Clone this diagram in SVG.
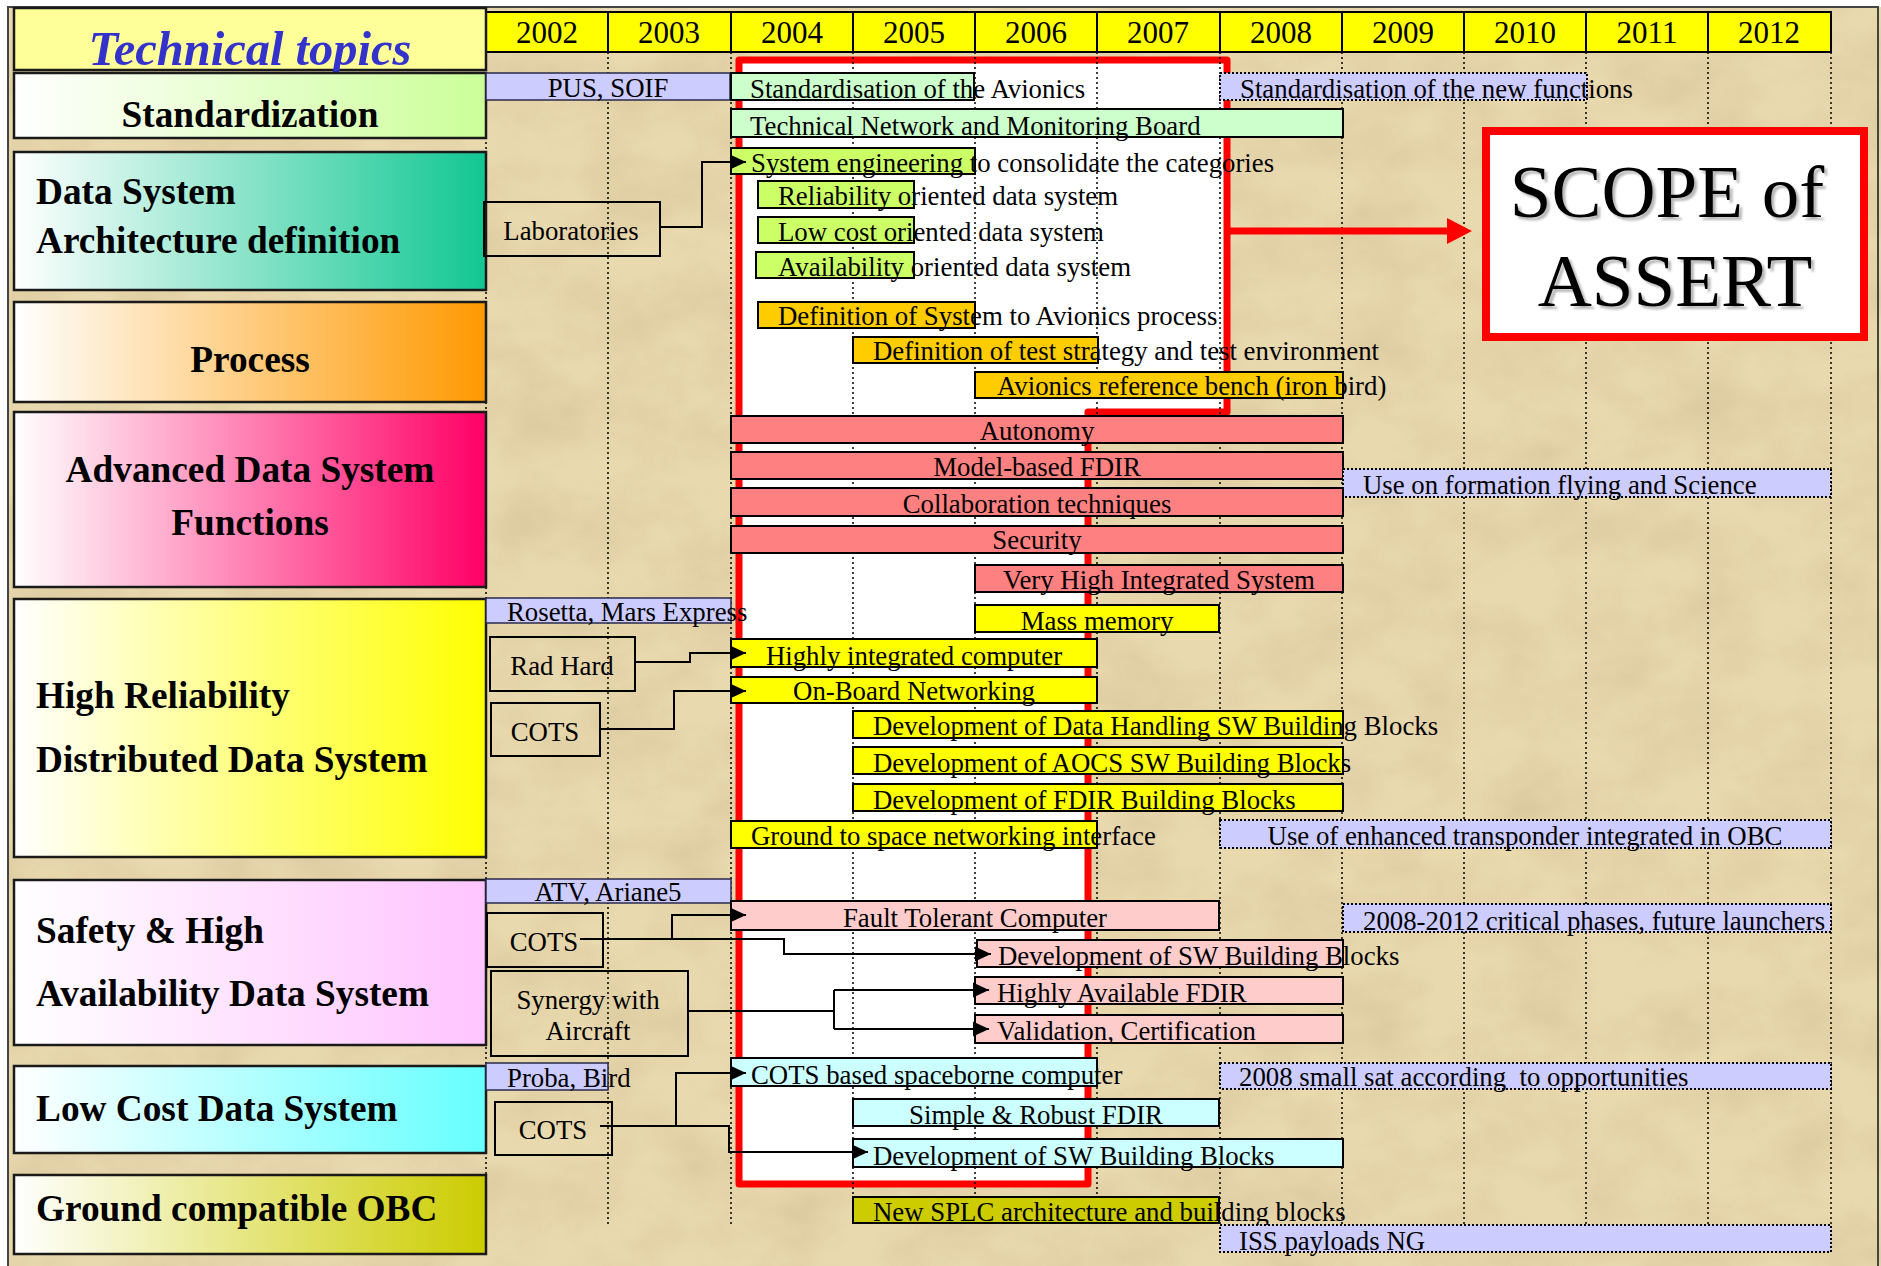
<svg xmlns="http://www.w3.org/2000/svg" width="1881" height="1266" viewBox="0 0 1881 1266">
<defs>
<style>
text{font-family:"Liberation Serif","Times New Roman",serif;fill:#000}
.yr{font-size:31px;text-anchor:middle}
.cat{font-size:37.3px;font-weight:bold}
.mid{text-anchor:middle}
.t{font-size:26.8px;transform:translate(0px,1.5px)}
.catbox{stroke:#1a1a1a;stroke-width:2.5}
.bar{stroke:#000;stroke-width:2}
.lav{fill:#CCCCFF;stroke:#2a2a4a;stroke-width:1.5}
.fut{fill:#CCCCFF;stroke:#000;stroke-width:2;stroke-dasharray:2 2}
.src{fill:none;stroke:#000;stroke-width:2}
.grid{stroke:#000;stroke-width:1.5;stroke-dasharray:2 3;fill:none}
.conn{stroke:#000;stroke-width:2;fill:none;marker-end:url(#ah)}
.line{stroke:#000;stroke-width:2;fill:none}
.g1{fill:#CCFFCC}.g2{fill:#CCFF66}.or{fill:#FFCC00}.rd{fill:#FF8080}.ye{fill:#FFFF00}.pk{fill:#FFCCCC}.cy{fill:#CCFFFF}.ol{fill:#CCCC00}
</style>
<marker id="ah" markerUnits="userSpaceOnUse" markerWidth="16" markerHeight="16" viewBox="0 0 15 14" refX="15" refY="7" orient="auto"><path d="M0,0 L15,7 L0,14 z" fill="#000"/></marker>
<linearGradient id="gStd" x1="0" x2="1" y1="0" y2="0"><stop offset="0" stop-color="#fff"/><stop offset="1" stop-color="#CCFF99"/></linearGradient>
<linearGradient id="gArc" x1="0" x2="1" y1="0" y2="0"><stop offset="0" stop-color="#fff"/><stop offset="1" stop-color="#11C792"/></linearGradient>
<linearGradient id="gPro" x1="0" x2="1" y1="0" y2="0"><stop offset="0" stop-color="#fff"/><stop offset="1" stop-color="#FF9900"/></linearGradient>
<linearGradient id="gAdv" x1="0" x2="1" y1="0" y2="0"><stop offset="0" stop-color="#fff"/><stop offset="1" stop-color="#FF0066"/></linearGradient>
<linearGradient id="gHR" x1="0" x2="1" y1="0" y2="0"><stop offset="0" stop-color="#fff"/><stop offset="1" stop-color="#FFFF00"/></linearGradient>
<linearGradient id="gSaf" x1="0" x2="1" y1="0" y2="0"><stop offset="0" stop-color="#fff"/><stop offset="1" stop-color="#FFC4FF"/></linearGradient>
<linearGradient id="gLow" x1="0" x2="1" y1="0" y2="0"><stop offset="0" stop-color="#fff"/><stop offset="1" stop-color="#66FFFF"/></linearGradient>
<linearGradient id="gGnd" x1="0" x2="1" y1="0" y2="0"><stop offset="0" stop-color="#fff"/><stop offset="1" stop-color="#CCCC00"/></linearGradient>
<filter id="paper" x="0" y="0" width="100%" height="100%">
<feTurbulence type="fractalNoise" baseFrequency="0.012 0.018" numOctaves="4" seed="7"/>
<feColorMatrix type="matrix" values="0 0 0 0 0.62  0 0 0 0 0.5  0 0 0 0 0.28  0 0 0 0.9 -0.3"/>
</filter>
<filter id="sh" x="-5%" y="-5%" width="110%" height="110%"><feGaussianBlur stdDeviation="1"/></filter>
</defs>

<rect x="0" y="0" width="1881" height="1266" fill="#fff"/>
<rect x="8" y="7" width="1873" height="1259" fill="#E9D9AE"/>
<rect x="8" y="7" width="1873" height="1259" filter="url(#paper)" opacity="0.9"/>
<path d="M8,1266 V7 H1878 V1266" fill="none" stroke="#444" stroke-width="2"/>

<g id="scope-area">
<path d="M739,60 H1227 V412 H1088 V1184 H739 Z" fill="#fff" stroke="#FF0000" stroke-width="7" stroke-linejoin="round"/>
</g>

<g id="grid">
<path class="grid" d="M486,52V1224 M608,52V1224 M731,52V1224 M853,52V1224 M975,52V1224 M1097,52V1224 M1220,52V1224 M1342,52V1224 M1464,52V1224 M1586,52V1224 M1708,52V1224 M1831,52V1225"/>
</g>

<g id="years">
<rect x="486" y="12" width="1345" height="40" fill="#FFFF00" stroke="#000" stroke-width="2"/>
<path d="M608,12V52 M731,12V52 M853,12V52 M975,12V52 M1097,12V52 M1220,12V52 M1342,12V52 M1464,12V52 M1586,12V52 M1708,12V52" stroke="#000" stroke-width="2"/>
<text class="yr" x="547" y="43">2002</text>
<text class="yr" x="669" y="43">2003</text>
<text class="yr" x="792" y="43">2004</text>
<text class="yr" x="914" y="43">2005</text>
<text class="yr" x="1036" y="43">2006</text>
<text class="yr" x="1158" y="43">2007</text>
<text class="yr" x="1281" y="43">2008</text>
<text class="yr" x="1403" y="43">2009</text>
<text class="yr" x="1525" y="43">2010</text>
<text class="yr" x="1647" y="43">2011</text>
<text class="yr" x="1769" y="43">2012</text>
</g>

<g id="cat-title">
<rect class="catbox" x="14" y="8" width="472" height="62" fill="#FFFF99"/>
<text x="250" y="65" text-anchor="middle" font-size="48.5" font-weight="bold" font-style="italic" style="fill:#3333CC">Technical topics</text>
</g>
<g id="cat-standardization">
<rect class="catbox" x="14" y="73" width="472" height="65" fill="url(#gStd)"/>
<text class="cat mid" x="250" y="127">Standardization</text>
</g>
<g id="cat-architecture">
<rect class="catbox" x="14" y="152" width="472" height="138" fill="url(#gArc)"/>
<text class="cat" x="36" y="204">Data System</text>
<text class="cat" x="36" y="253">Architecture definition</text>
</g>
<g id="cat-process">
<rect class="catbox" x="14" y="302" width="472" height="100" fill="url(#gPro)"/>
<text class="cat mid" x="250" y="372">Process</text>
</g>
<g id="cat-advanced">
<rect class="catbox" x="14" y="412" width="472" height="175" fill="url(#gAdv)"/>
<text class="cat mid" x="250" y="482">Advanced Data System</text>
<text class="cat mid" x="250" y="535">Functions</text>
</g>
<g id="cat-highrel">
<rect class="catbox" x="14" y="599" width="472" height="258" fill="url(#gHR)"/>
<text class="cat" x="36" y="708">High Reliability</text>
<text class="cat" x="36" y="772">Distributed Data System</text>
</g>
<g id="cat-safety">
<rect class="catbox" x="14" y="880" width="472" height="165" fill="url(#gSaf)"/>
<text class="cat" x="36" y="943">Safety &amp; High</text>
<text class="cat" x="36" y="1006">Availability Data System</text>
</g>
<g id="cat-lowcost">
<rect class="catbox" x="14" y="1066" width="472" height="87" fill="url(#gLow)"/>
<text class="cat" x="36" y="1121">Low Cost Data System</text>
</g>
<g id="cat-ground">
<rect class="catbox" x="14" y="1175" width="472" height="79" fill="url(#gGnd)"/>
<text class="cat" x="36" y="1221">Ground compatible OBC</text>
</g>

<g id="bar-pus"><rect class="lav" x="486" y="73" width="244" height="27"/><text class="t mid" x="608" y="95">PUS, SOIF</text></g>
<g id="bar-std-avionics"><rect class="bar g1" x="731" y="73" width="243" height="27"/><text class="t" x="750" y="96">Standardisation of the Avionics</text></g>
<g id="bar-std-new"><rect class="fut" x="1220" y="73" width="367" height="27"/><text class="t" x="1240" y="96">Standardisation of the new functions</text></g>
<g id="bar-tnmb"><rect class="bar g1" x="731" y="109" width="612" height="28"/><text class="t" x="750" y="133">Technical Network and Monitoring Board</text></g>
<g id="bar-syseng"><rect class="bar g2" x="731" y="148" width="244" height="26"/><text class="t" x="751" y="170">System engineering to consolidate the categories</text></g>
<g id="bar-reliab"><rect class="bar g2" x="758" y="181" width="156" height="27"/><text class="t" x="778" y="203">Reliability oriented data system</text></g>
<g id="bar-lowcost"><rect class="bar g2" x="758" y="217" width="156" height="26"/><text class="t" x="778" y="239">Low cost oriented data system</text></g>
<g id="bar-avail"><rect class="bar g2" x="756" y="252" width="158" height="26"/><text class="t" x="778" y="274">Availability oriented data system</text></g>
<g id="bar-defsys"><rect class="bar or" x="758" y="302" width="217" height="26"/><text class="t" x="778" y="323">Definition of System to Avionics process</text></g>
<g id="bar-deftest"><rect class="bar or" x="853" y="337" width="245" height="26"/><text class="t" x="873" y="358">Definition of test strategy and test environment</text></g>
<g id="bar-ironbird"><rect class="bar or" x="975" y="372" width="368" height="26"/><text class="t" x="997" y="393">Avionics reference bench (iron bird)</text></g>
<g id="bar-autonomy"><rect class="bar rd" x="731" y="416" width="612" height="27"/><text class="t mid" x="1037" y="438">Autonomy</text></g>
<g id="bar-mbfdir"><rect class="bar rd" x="731" y="452" width="612" height="27"/><text class="t mid" x="1037" y="474">Model-based FDIR</text></g>
<g id="bar-formation"><rect class="fut" x="1343" y="469" width="488" height="28"/><text class="t" x="1363" y="492">Use on formation flying and Science</text></g>
<g id="bar-collab"><rect class="bar rd" x="731" y="488" width="612" height="28"/><text class="t mid" x="1037" y="511">Collaboration techniques</text></g>
<g id="bar-security"><rect class="bar rd" x="731" y="526" width="612" height="27"/><text class="t mid" x="1037" y="547">Security</text></g>
<g id="bar-vhis"><rect class="bar rd" x="975" y="565" width="368" height="27"/><text class="t mid" x="1159" y="587">Very High Integrated System</text></g>
<g id="bar-rosetta"><rect class="lav" x="486" y="598" width="245" height="25"/><text class="t" x="507" y="619">Rosetta, Mars Express</text></g>
<g id="bar-massmem"><rect class="bar ye" x="975" y="605" width="244" height="27"/><text class="t mid" x="1097" y="628">Mass memory</text></g>
<g id="bar-hic"><rect class="bar ye" x="731" y="639" width="366" height="28"/><text class="t mid" x="914" y="663">Highly integrated computer</text></g>
<g id="bar-obn"><rect class="bar ye" x="731" y="677" width="366" height="26"/><text class="t mid" x="914" y="698">On-Board Networking</text></g>
<g id="bar-dhsw"><rect class="bar ye" x="853" y="711" width="490" height="27"/><text class="t" x="873" y="733">Development of Data Handling SW Building Blocks</text></g>
<g id="bar-aocs"><rect class="bar ye" x="853" y="747" width="490" height="27"/><text class="t" x="873" y="770">Development of AOCS SW Building Blocks</text></g>
<g id="bar-fdirbb"><rect class="bar ye" x="853" y="784" width="490" height="27"/><text class="t" x="873" y="807">Development of FDIR Building Blocks</text></g>
<g id="bar-g2s"><rect class="bar ye" x="731" y="821" width="366" height="27"/><text class="t" x="751" y="843">Ground to space networking interface</text></g>
<g id="bar-transp"><rect class="fut" x="1220" y="820" width="611" height="28"/><text class="t mid" x="1525" y="843">Use of enhanced transponder integrated in OBC</text></g>
<g id="bar-atv"><rect class="lav" x="486" y="879" width="245" height="24"/><text class="t mid" x="608" y="899">ATV, Ariane5</text></g>
<g id="bar-ftc"><rect class="bar pk" x="731" y="901" width="488" height="29"/><text class="t mid" x="975" y="925">Fault Tolerant Computer</text></g>
<g id="bar-critical"><rect class="fut" x="1343" y="904" width="488" height="28"/><text class="t" x="1363" y="928">2008-2012 critical phases, future launchers</text></g>
<g id="bar-swbb-safety"><rect class="bar pk" x="977" y="940" width="366" height="27"/><text class="t" x="998" y="963">Development of SW Building Blocks</text></g>
<g id="bar-hafdir"><rect class="bar pk" x="975" y="977" width="368" height="27"/><text class="t" x="997" y="1000">Highly Available FDIR</text></g>
<g id="bar-valid"><rect class="bar pk" x="975" y="1015" width="368" height="28"/><text class="t" x="997" y="1038">Validation, Certification</text></g>
<g id="bar-cotsbased"><rect class="bar cy" x="731" y="1058" width="366" height="28"/><text class="t" x="751" y="1082">COTS based spaceborne computer</text></g>
<g id="bar-proba"><rect class="lav" x="486" y="1063" width="122" height="27"/><text class="t" x="507" y="1085">Proba, Bird</text></g>
<g id="bar-smallsat"><rect class="fut" x="1220" y="1063" width="611" height="26"/><text class="t" x="1239" y="1084" style="white-space:pre">2008 small sat according  to opportunities</text></g>
<g id="bar-srfdir"><rect class="bar cy" x="853" y="1099" width="366" height="27"/><text class="t mid" x="1036" y="1122">Simple &amp; Robust FDIR</text></g>
<g id="bar-swbb-low"><rect class="bar cy" x="853" y="1139" width="490" height="28"/><text class="t" x="873" y="1163">Development of SW Building Blocks</text></g>
<g id="bar-splc"><rect class="bar ol" x="853" y="1197" width="366" height="26"/><text class="t" x="873" y="1219">New SPLC architecture and building blocks</text></g>
<g id="bar-iss"><rect class="fut" x="1220" y="1225" width="611" height="27"/><text class="t" x="1239" y="1248">ISS payloads NG</text></g>

<g id="src-labs"><rect class="src" x="484" y="202" width="176" height="54"/><text class="t mid" x="571" y="238">Laboratories</text></g>
<g id="src-radhard"><rect class="src" x="490" y="637" width="145" height="54"/><text class="t mid" x="562" y="673">Rad Hard</text></g>
<g id="src-cots1"><rect class="src" x="491" y="703" width="109" height="53"/><text class="t mid" x="545" y="739">COTS</text></g>
<g id="src-cots2"><rect class="src" x="487" y="913" width="116" height="54"/><text class="t mid" x="544" y="949">COTS</text></g>
<g id="src-synergy"><rect class="src" x="491" y="971" width="197" height="85"/><text class="t mid" x="588" y="1007">Synergy with</text><text class="t mid" x="588" y="1038">Aircraft</text></g>
<g id="src-cots3"><rect class="src" x="495" y="1102" width="117" height="53"/><text class="t mid" x="553" y="1137">COTS</text></g>

<g id="connectors">
<path class="conn" d="M660,227 H702 V162 H746"/>
<path class="conn" d="M635,662 H690 V653 H746"/>
<path class="conn" d="M600,729 H674 V691 H746"/>
<path class="conn" d="M580,939 H672 V915 H746"/>
<path class="conn" d="M672,939 H784 V954 H991"/>
<path class="line" d="M688,1011 H834 M834,990 V1029"/>
<path class="conn" d="M834,990 H989"/>
<path class="conn" d="M834,1029 H989"/>
<path class="conn" d="M600,1126 H676 V1073 H746"/>
<path class="conn" d="M676,1126 H729 V1152 H868"/>
<path d="M1227,231 H1450" stroke="#FF0000" stroke-width="7" fill="none"/>
<polygon points="1447,218 1472,231 1447,244" fill="#FF0000"/>
</g>

<g id="scope">
<rect x="1486" y="131" width="378" height="206" fill="#fff" stroke="#FF0000" stroke-width="8"/>
<g filter="url(#sh)" opacity="0.6"><text x="1670" y="220" text-anchor="middle" font-size="75" style="fill:#888">SCOPE of</text><text x="1678" y="309" text-anchor="middle" font-size="75" style="fill:#888">ASSERT</text></g>
<text x="1667" y="217" text-anchor="middle" font-size="75">SCOPE of</text>
<text x="1675" y="306" text-anchor="middle" font-size="75">ASSERT</text>
</g>
</svg>
